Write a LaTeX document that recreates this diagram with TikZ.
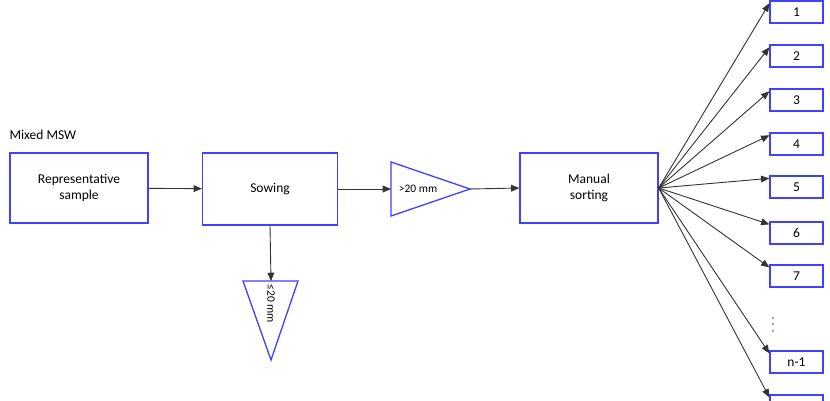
\documentclass[tikz,border=0pt]{standalone}
\usepackage{fontspec}
\setmainfont{Carlito}
\usetikzlibrary{arrows, positioning, calc}

\begin{document}
\begin{tikzpicture}[x=1pt, y=1pt, font=\fontsize{13.5}{16}\selectfont]
    % Styles
    \tikzstyle{stage} = [rectangle, draw=blue!75, line width=1.3pt, fill=white, minimum width=138pt, minimum height=70pt, align=center]
    \tikzstyle{bin} = [rectangle, draw=blue!75, line width=1.3pt, fill=white, minimum width=53pt, minimum height=22pt, inner sep=0pt]
    \tikzstyle{sieve} = [draw=blue!75, line width=1.3pt, fill=white]
    \tikzstyle{arrow} = [draw=black!80, line width=0.9pt, ->, >=triangle 45]

    \useasboundingbox (0,0) rectangle (830,400);

    % Main line
    \node [stage] (sample) at (79,212) {Representative\\sample};
    \node [anchor=south west, inner sep=0pt] (msw) at (sample.north west |- 0,260) {Mixed MSW};
    \node [stage, minimum width=135pt, minimum height=72pt] (sowing) at (270,211) {Sowing};
    \node [stage] (sorting) at (589,212) {Manual\\sorting};

    % Sieves
    \draw [sieve] (391,238) coordinate (coarse) -- (470,211) coordinate (coarsetip) -- (391,184) -- cycle;
    \node [font=\fontsize{11.5}{13}\selectfont] (coarselbl) at (418,211) {>20 mm};
    \draw [sieve] (243,119) coordinate (fineleft) -- (298,119) -- (271,40) -- cycle;
    \coordinate (fine) at (271,119);
    \node [rotate=-90, font=\fontsize{11.5}{13}\selectfont] (finelbl) at (271,96) {≤20 mm};

    % Fractions
    \foreach \n/\y in {1/388, 2/344, 3/300, 4/256, 5/213, 6/167, 7/124, m/38, z/-6} {
        \node [bin] (frac\n) at (796.5,\y) {};
    }
    \foreach \n/\t in {1/1, 2/2, 3/3, 4/4, 5/5, 6/6, 7/7, m/n-1} {
        \node at (frac\n) {\t};
    }
    \node [text=black!50, yscale=1.6, inner sep=0pt] (dots) at (773,80) {$\vdots$};

    % Connections
    \draw [arrow] (sample) -- (sowing);
    \draw [arrow] (sowing.east) -- ($(coarse)!0.5!(coarse |- 0,184)$);
    \draw [arrow] (sowing.south) -- (fine);
    \draw [arrow] (coarsetip) -- (sorting.west);
    \foreach \n in {1,2,3,4,5,6,7,m,z} {
        \draw [arrow] (sorting.east) -- ($(frac\n.north west)+(0,-3)$);
    }
\end{tikzpicture}
\end{document}
